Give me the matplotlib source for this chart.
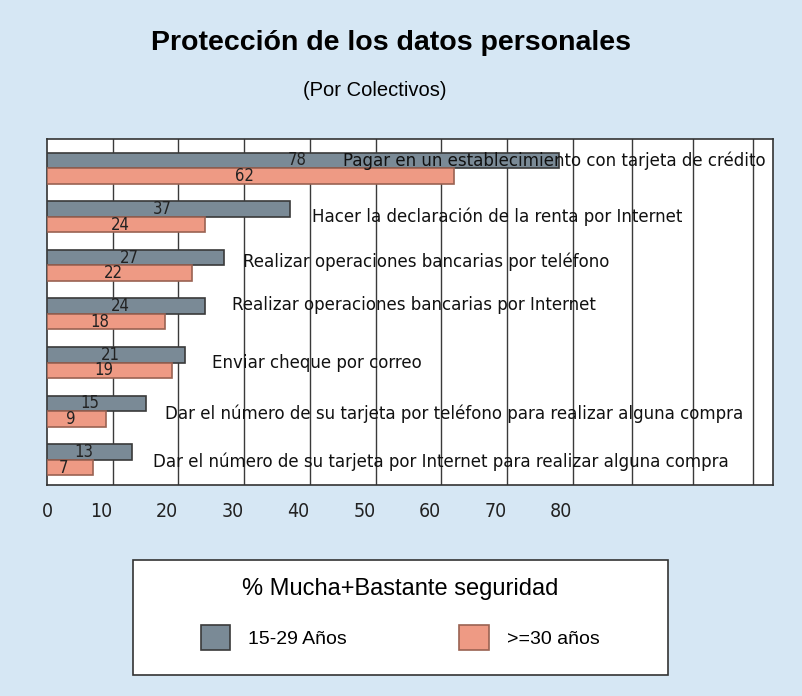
import numpy as np
import matplotlib
matplotlib.use("Agg")
import matplotlib.pyplot as plt
from matplotlib.patches import Rectangle

# data
categorias = [
    "Pagar en un establecimiento con tarjeta de crédito",
    "Hacer la declaración de la renta por Internet",
    "Realizar operaciones bancarias por teléfono",
    "Realizar operaciones bancarias por Internet",
    "Enviar cheque por correo",
    "Dar el número de su tarjeta por teléfono para realizar alguna compra",
    "Dar el número de su tarjeta por Internet para realizar alguna compra",
]
jovenes = [78, 37, 27, 24, 21, 15, 13]
mayores = [62, 24, 22, 18, 19, 9, 7]
series_names = ["15-29 Años", ">=30 años"]
ticks = [0, 10, 20, 30, 40, 50, 60, 70, 80]

# layout of the category texts (x start in axis units, small y shift)
label_x = [45.1, 40.3, 29.8, 28.2, 25.1, 18.0, 16.1]
label_dy = [-0.16, -0.01, -0.07, -0.18, 0.0, 0.06, 0.05]
grid_x = [10, 20, 30, 40, 50, 60, 70, 80, 89, 98.3, 107.5]

bg = "#d6e7f4"
c_grey = "#7a8a96"
c_salmon = "#ee9a84"
regular = ["Liberation Sans", "DejaVu Sans"]
narrow = dict(family="DejaVu Sans", stretch="condensed")

fig = plt.figure(figsize=(8.03, 6.96), dpi=100, facecolor=bg)
ax = fig.add_axes([47 / 803, 1 - 485 / 696, 726 / 803, 346 / 696])
ax.set_facecolor("white")

y = np.arange(len(categorias))
h = 0.32
b1 = ax.barh(y - h / 2, jovenes, height=h, color=c_grey, edgecolor="#3a3a3a",
             linewidth=1.2, zorder=3, label=series_names[0])
b2 = ax.barh(y + h / 2, mayores, height=h, color=c_salmon, edgecolor="#9a6252",
             linewidth=1.2, zorder=3, label=series_names[1])

for i in range(len(categorias)):
    ax.annotate(str(jovenes[i]), (jovenes[i] / 2, y[i] - h / 2), xytext=(-6, 0),
                textcoords="offset pixels", ha="center", va="center",
                fontsize=12, color="#222222", zorder=4, **narrow)
    ax.annotate(str(mayores[i]), (mayores[i] / 2, y[i] + h / 2), xytext=(-6, 0),
                textcoords="offset pixels", ha="center", va="center",
                fontsize=12, color="#222222", zorder=4, **narrow)
    ax.text(label_x[i], y[i] + label_dy[i], categorias[i], ha="left", va="center",
            fontsize=13.3, color="#111111", zorder=5, **narrow)

for gx in grid_x:
    ax.axvline(gx, color="#3a3a3a", lw=1.0, zorder=2)

ax.set_xlim(0, 110.5)
ax.set_ylim(6.52, -0.6)
ax.set_yticks([])
ax.set_xticks(ticks)
ax.set_xticklabels([str(t) for t in ticks], fontsize=14, color="#222222", **narrow)
for lab in ax.get_xticklabels()[1:]:
    lab.set_ha("right")
ax.tick_params(axis="x", length=0, pad=12)
for s in ax.spines.values():
    s.set_color("#333333")
    s.set_linewidth(1.2)

fig.text(391 / 803, 1 - 43 / 696, "Protección de los datos personales", ha="center",
         va="center", fontsize=20.5, fontweight="bold", family=regular)
fig.text(375 / 803, 1 - 90 / 696, "(Por Colectivos)", ha="center", va="center",
         fontsize=14.5, family=regular)

# legend frame
fig.patches.append(Rectangle((133 / 803, 1 - 675 / 696), 535 / 803, 115 / 696,
                             transform=fig.transFigure, facecolor="white",
                             edgecolor="#333333", linewidth=1.2, zorder=0))
leg = fig.legend(handles=[b1, b2], labels=series_names, ncol=2,
                 loc="center", bbox_to_anchor=(400 / 803, 1 - 614 / 696),
                 title="% Mucha+Bastante seguridad",
                 prop={"family": regular, "size": 14},
                 title_fontproperties={"family": regular, "size": 17},
                 frameon=False, handlelength=1.5, handleheight=1.55,
                 handletextpad=0.93, columnspacing=5.8, borderpad=0)
leg._legend_box.sep = 18

fig.savefig("out.png", dpi=100, facecolor=bg)
